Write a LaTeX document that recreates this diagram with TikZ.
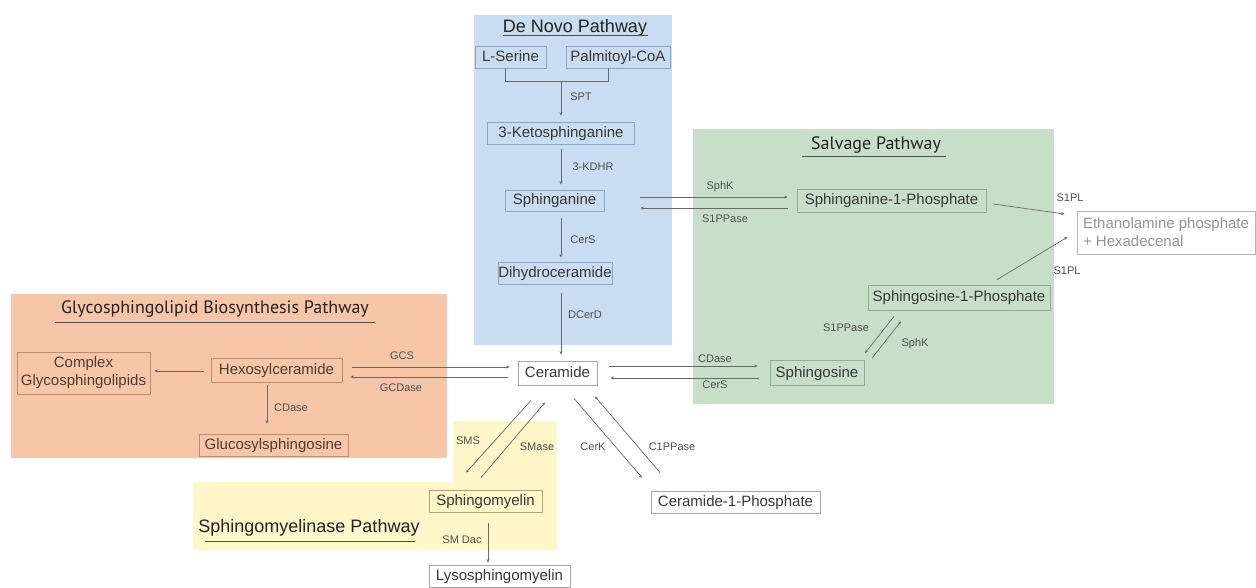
\documentclass[tikz,border=0pt]{standalone}
\usepackage{fontspec}
\setmainfont{Liberation Sans}
\newfontfamily\myr{PT Sans}
\usetikzlibrary{calc,arrows.meta}
\definecolor{blu}{RGB}{200,221,241}
\definecolor{grn}{RGB}{200,222,200}
\definecolor{org}{RGB}{247,197,167}
\definecolor{yel}{RGB}{255,247,201}
\definecolor{bluB}{RGB}{140,165,195}
\definecolor{grnB}{RGB}{145,172,145}
\definecolor{orgB}{RGB}{190,140,115}
\definecolor{yelB}{RGB}{175,165,125}
\definecolor{gryB}{RGB}{165,165,165}
\definecolor{txt}{RGB}{55,55,55}
\definecolor{otxt}{RGB}{80,60,50}
\definecolor{lab}{RGB}{80,80,80}
\definecolor{arrc}{RGB}{105,105,105}
\definecolor{ttl}{RGB}{35,35,35}
\begin{document}
\begin{tikzpicture}[x=1pt,y=-1pt,
  box/.style={draw, line width=0.8pt, inner sep=0pt, text=txt, align=center,
    font=\fontsize{15}{18}\selectfont},
  sl/.style={text height=11pt, text depth=3pt},
  bbox/.style={box, sl, draw=bluB},
  gbox/.style={box, sl, draw=grnB},
  obox/.style={box, draw=orgB, text=otxt},
  ybox/.style={box, sl, draw=yelB},
  wbox/.style={box, sl, draw=gryB},
  lbl/.style={font=\fontsize{11}{13}\selectfont, text=lab, inner sep=0pt},
  ln/.style={draw=arrc, line width=0.7pt},
  arr/.style={ln, -{Stealth[length=3.5pt,width=3pt]}},
  ttlA/.style={font=\fontsize{18}{20}\selectfont, text=ttl, inner sep=0pt, anchor=base},
  ttlB/.style={font=\myr\fontsize{18}{20}\selectfont, text=ttl, inner sep=0pt, anchor=base},
  ul/.style={draw=ttl!80, line width=0.8pt}]
\path[use as bounding box] (0,0) rectangle (1256,587);
% regions
\fill[blu] (474,15) rectangle (672,345);
\fill[grn] (693,129) rectangle (1054,404);
\fill[org] (11,294) rectangle (447,458);
\fill[yel] (453,421) -- (557,421) -- (557,550) -- (193,550) -- (193,482) -- (453,482) -- cycle;
% titles
\node[ttlA] (tdn) at (575,32) {De Novo Pathway};
\draw[ul] (503,35) -- (648,35);
\node[ttlB] (tsv) at (876,149) {Salvage Pathway};
\draw[ul] (802,156) -- (946,156);
\node[ttlB] (tgl) at (215,313) {Glycosphingolipid Biosynthesis Pathway};
\draw[ul] (55,322) -- (375,322);
\node[ttlA] (tsm) at (309,532) {Sphingomyelinase Pathway};
\draw[ul] (205,541) -- (415,541);
% nodes
\node[bbox, minimum width=71, minimum height=22] (lser) at (510.5,57) {L-Serine};
\node[bbox, minimum width=104, minimum height=22] (palm) at (618,57) {Palmitoyl-CoA};
\node[bbox, minimum width=147, minimum height=22] (keto) at (561,133) {3-Ketosphinganine};
\node[bbox, minimum width=99, minimum height=21] (sphan) at (554.5,200.5) {Sphinganine};
\node[bbox, minimum width=114, minimum height=22] (dihy) at (555,273) {Dihydroceramide};
\node[wbox, minimum width=79, minimum height=24] (cer) at (557.5,373) {Ceramide};
\node[gbox, minimum width=189, minimum height=23] (s1pa) at (891.5,200.5) {Sphinganine-1-Phosphate};
\node[box, draw=gryB!80, text=gryB!90!black, align=left, minimum width=178, minimum height=43] (etha) at (1166,232.5) {Ethanolamine phosphate\\+ Hexadecenal};
\node[gbox, minimum width=182, minimum height=25] (s1po) at (959,297.5) {Sphingosine-1-Phosphate};
\node[gbox, minimum width=94, minimum height=25] (sphs) at (817,373) {Sphingosine};
\node[obox, sl, minimum width=131, minimum height=24] (hexo) at (276.5,370) {Hexosylceramide};
\node[obox, minimum width=133, minimum height=42] (cplx) at (83.5,373) {Complex\\Glycosphingolipids};
\node[obox, sl, minimum width=149, minimum height=22] (gluc) at (273.5,445) {Glucosylsphingosine};
\node[ybox, minimum width=113, minimum height=22] (smy) at (485.5,501) {Sphingomyelin};
\node[wbox, minimum width=141, minimum height=22] (lyso) at (499.5,576) {Lysosphingomyelin};
\node[wbox, minimum width=169, minimum height=22] (c1p) at (735.5,502) {Ceramide-1-Phosphate};
% de novo connectors
\draw[ln] ($(lser.south)+(-5,0)$) |- ($(palm.south)+(-10,13)$) -- ($(palm.south)+(-10,0)$);
\coordinate (spt) at ($(lser.south)+(50.5,13)$);
\draw[arr] (spt) -- ($(keto.north)+(0,-6)$);
\node[lbl] (lspt) at (581,97) {SPT};
\coordinate (k1) at (keto.south);
\coordinate (k2) at (sphan.north -| keto.south);
\coordinate (k3) at (sphan.south -| keto.south);
\coordinate (k4) at (dihy.north -| keto.south);
\coordinate (k5) at (dihy.south -| keto.south);
\coordinate (k6) at (cer.north -| keto.south);
\draw[arr] ($(k1)+(0,5)$) -- ($(k2)+(0,-5)$);
\node[lbl] (lkd) at (593,167) {3-KDHR};
\draw[arr] ($(k3)+(0,7)$) -- ($(k4)+(0,-4)$);
\node[lbl] (lcs1) at (583,240) {CerS};
\draw[arr] ($(k5)+(0,9)$) -- ($(k6)+(0,-6)$);
\node[lbl] (ldc) at (585,315) {DCerD};
% sphinganine <-> S1P
\draw[arr] ($(sphan.east)+(36,-3.5)$) -- ($(s1pa.west)+(-9,-3.5)$);
\draw[arr] ($(s1pa.west)+(-9,7.5)$) -- ($(sphan.east)+(36,7.5)$);
\node[lbl] (lsk1) at (720,187) {SphK};
\node[lbl] (lsp1) at (725,219) {S1PPase};
% S1PL
\draw[arr] ($(s1pa.east)+(7,3.5)$) -- ($(etha.west)+(-12,-18.5)$);
\node[lbl] (lpl1) at (1070,198) {S1PL};
\draw[arr] ($(s1po.north)+(38,-5)$) -- ($(etha.west)+(-9,4.5)$);
\node[lbl] (lpl2) at (1067,271) {S1PL};
% sphingosine <-> S1P
\draw[arr] ($(s1po.south)+(-65,6)$) -- ($(sphs.north)+(48,-7)$);
\draw[arr] ($(sphs.north)+(55,-2)$) -- ($(s1po.south)+(-58,11)$);
\node[lbl] (lsp2) at (846,328) {S1PPase};
\node[lbl] (lsk2) at (915,344) {SphK};
% ceramide <-> sphingosine
\draw[arr] ($(cer.east)+(12,-7)$) -- ($(sphs.west)+(-12,-7)$);
\draw[arr] ($(sphs.west)+(-11,5)$) -- ($(cer.east)+(13,5)$);
\node[lbl] (lcd1) at (715,359) {CDase};
\node[lbl] (lcs2) at (715,385) {CerS};
% hexosylceramide <-> ceramide
\coordinate (g1) at ($(cer.west)+(-8,-6)$);
\coordinate (g1s) at ($(hexo.east)+(10,0)$);
\draw[arr] (g1s |- g1) -- (g1);
\coordinate (g2) at ($(hexo.east)+(8,7)$);
\coordinate (g2s) at ($(cer.west)+(-10,0)$);
\draw[arr] (g2s |- g2) -- (g2);
\node[lbl] (lgcs) at (402,356) {GCS};
\node[lbl] (lgcd) at (401,388) {GCDase};
\draw[arr] ($(hexo.west)+(-7,1)$) -- ($(cplx.east)+(4,-2)$);
\draw[arr] ($(hexo.south)+(-9.5,3)$) -- ($(gluc.north)+(-6.5,-10)$);
\node[lbl] (lcd2) at (291,408) {CDase};
% ceramide <-> sphingomyelin
\draw[arr] ($(cer.south)+(-26.5,15)$) -- ($(smy.north)+(-19.5,-17)$);
\draw[arr] ($(smy.north)+(-4.5,-12)$) -- ($(cer.south)+(-12.5,17)$);
\node[lbl] (lsms) at (468,441) {SMS};
\node[lbl] (lsma) at (537,447) {SMase};
% ceramide <-> C1P
\draw[arr] ($(cer.south)+(16.5,13)$) -- ($(c1p.north)+(-93.5,-13)$);
\draw[arr] ($(c1p.north)+(-75.5,-18)$) -- ($(cer.south)+(37.5,11)$);
\node[lbl] (lcek) at (593,447) {CerK};
\node[lbl] (lc1p) at (672,447) {C1PPase};
% sphingomyelin -> lyso
\draw[arr] ($(smy.south)+(2.5,11)$) -- ($(lyso.north)+(-11.5,-2)$);
\node[lbl] (lsmd) at (462,540) {SM Dac};
\end{tikzpicture}
\end{document}
